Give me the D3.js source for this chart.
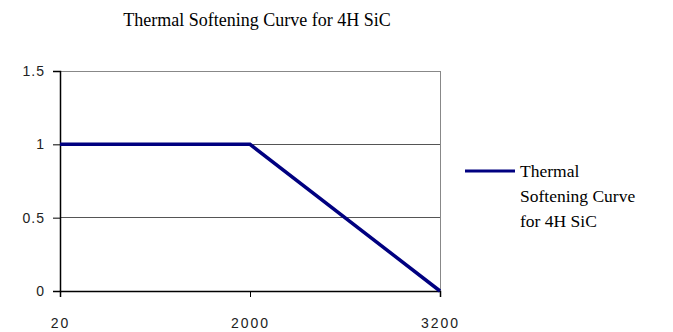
<!DOCTYPE html>
<html>
<head>
<meta charset="utf-8">
<script src="https://cdn.jsdelivr.net/npm/d3@7"></script>
<style>
  body { margin: 0; background: #fff; }
  svg { display: block; }
</style>
</head>
<body>
<svg></svg>
<script>
// chart values
const categories = ['20', '2000', '3200'];
const softening = [1, 1, 0];
const yTicks = [0, 0.5, 1, 1.5];
const seriesName = ['Thermal', 'Softening Curve', 'for 4H SiC'];

const width = 673;
const height = 332;
const plot = { left: 60, right: 440, top: 71, bottom: 291 };
const serif = "'Liberation Serif', 'Times New Roman', serif";
const sans = "'Liberation Sans', Arial, sans-serif";

const x = d3.scalePoint().
  domain(categories).
  range([plot.left, plot.right]);

const y = d3.scaleLinear().
  domain([0, 1.5]).
  range([plot.bottom, plot.top]);

const svg = d3.select('svg').
  attr('width', width).
  attr('height', height);

// title
svg.append('text').
  attr('x', 257).
  attr('y', 26).
  attr('text-anchor', 'middle').
  attr('font-family', serif).
  attr('font-size', 18).
  attr('fill', '#000').
  text('Thermal Softening Curve for 4H SiC');

// gridlines
svg.append('g').
  selectAll('line').
  data(yTicks.filter(d => d > 0)).
  enter().append('line').
  attr('x1', plot.left).
  attr('x2', plot.right).
  attr('y1', d => y(d)).
  attr('y2', d => y(d)).
  attr('stroke', d => d === 1.5 ? '#888' : '#555').
  attr('stroke-width', 1).
  attr('shape-rendering', 'crispEdges');

// right border of plot area
svg.append('line').
  attr('x1', plot.right).
  attr('x2', plot.right).
  attr('y1', plot.top).
  attr('y2', plot.bottom).
  attr('stroke', '#888').
  attr('shape-rendering', 'crispEdges');

// y axis
const yAxis = d3.axisLeft(y).
  tickValues(yTicks).
  tickFormat(d3.format('')).
  tickSize(7).
  tickPadding(8);

const gy = svg.append('g').
  attr('transform', `translate(${plot.left}, 0)`).
  call(yAxis);
gy.select('.domain').attr('stroke', '#000').attr('stroke-width', 1.5);
gy.selectAll('.tick line').attr('stroke', '#000');
gy.selectAll('text').
  attr('font-family', sans).
  attr('font-size', 14).
  attr('letter-spacing', 1).
  attr('fill', '#222');

// x axis
const xAxis = d3.axisBottom(x).
  tickSize(6).
  tickPadding(21);

const gx = svg.append('g').
  attr('transform', `translate(0, ${plot.bottom})`).
  call(xAxis);
gx.select('.domain').attr('stroke', '#000').attr('stroke-width', 1.5);
gx.selectAll('.tick line').attr('stroke', '#000');
gx.selectAll('text').
  attr('font-family', sans).
  attr('font-size', 14).
  attr('letter-spacing', 2).
  attr('fill', '#222');

// series line
const line = d3.line().
  x((d, i) => x(categories[i])).
  y(d => y(d));

svg.append('path').
  datum(softening).
  attr('d', line).
  attr('fill', 'none').
  attr('stroke', '#000080').
  attr('stroke-width', 3.5);

// legend
const legend = svg.append('g').
  attr('transform', 'translate(465, 171)');
legend.append('line').
  attr('x1', 0).
  attr('x2', 50).
  attr('stroke', '#000080').
  attr('stroke-width', 3);
legend.append('text').
  attr('font-family', serif).
  attr('font-size', 17.5).
  attr('fill', '#000').
  selectAll('tspan').
  data(seriesName).
  enter().append('tspan').
  attr('x', 55).
  attr('y', (d, i) => 6 + i * 25).
  text(d => d);
</script>
</body>
</html>
